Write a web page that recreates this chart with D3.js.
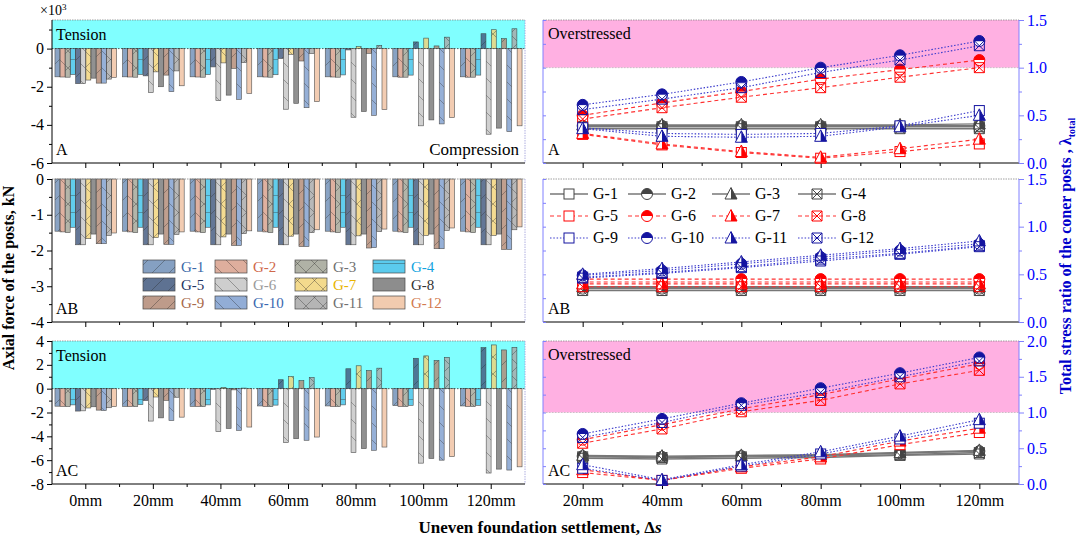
<!DOCTYPE html>
<html lang="en">
<head>
<meta charset="UTF-8">
<title>Axial force and stress ratio of the posts</title>
<script src="https://d3js.org/d3.v7.min.js"></script>
<style>
  body { margin: 0; background: #fff; }
  svg text { font-family: "Liberation Serif", "Times New Roman", serif; }
</style>
</head>
<body>
<svg id="chart" width="1079" height="538"></svg>
<script>
// ---- data ----
const settle = ["0mm", "20mm", "40mm", "60mm", "80mm", "100mm", "120mm"];
const settleMm = [20, 40, 60, 80, 100, 120];
const groups = ["G-1", "G-2", "G-3", "G-4", "G-5", "G-6", "G-7", "G-8", "G-9", "G-10", "G-11", "G-12"];

// axial force (x10^3 kN), one row per post group, one value per settlement
const forceA = [
  [-1.48, -1.48, -1.48, -1.48, -1.48, -1.48, -1.48],
  [-1.49, -1.49, -1.49, -1.49, -1.49, -1.50, -1.50],
  [-1.50, -1.50, -1.50, -1.50, -1.50, -1.50, -1.50],
  [-1.36, -1.36, -1.36, -1.37, -1.38, -1.39, -1.39],
  [-1.84, -1.43, -0.96, -0.52, -0.07, 0.35, 0.78],
  [-1.84, -2.31, -2.73, -3.18, -3.60, -4.05, -4.49],
  [-1.65, -1.22, -0.75, -0.30, 0.10, 0.55, 0.99],
  [-1.55, -2.00, -2.44, -2.87, -3.30, -3.74, -4.17],
  [-1.81, -1.39, -1.04, -0.65, -0.25, 0.14, 0.52],
  [-1.81, -2.26, -2.66, -3.10, -3.50, -3.95, -4.35],
  [-1.60, -1.17, -0.73, -0.26, 0.17, 0.60, 1.04],
  [-1.51, -1.95, -2.35, -2.78, -3.20, -3.62, -4.05]
];
const forceAB = [
  [-1.46, -1.46, -1.46, -1.46, -1.46, -1.46, -1.46],
  [-1.48, -1.48, -1.48, -1.48, -1.48, -1.48, -1.48],
  [-1.50, -1.50, -1.50, -1.50, -1.50, -1.50, -1.50],
  [-1.35, -1.35, -1.35, -1.35, -1.35, -1.35, -1.35],
  [-1.84, -1.84, -1.84, -1.84, -1.84, -1.84, -1.84],
  [-1.84, -1.84, -1.84, -1.84, -1.84, -1.84, -1.84],
  [-1.67, -1.64, -1.62, -1.60, -1.59, -1.58, -1.58],
  [-1.54, -1.54, -1.54, -1.54, -1.54, -1.54, -1.54],
  [-1.81, -1.83, -1.86, -1.89, -1.93, -1.95, -1.97],
  [-1.81, -1.83, -1.86, -1.89, -1.92, -1.95, -1.97],
  [-1.58, -1.55, -1.53, -1.50, -1.47, -1.44, -1.42],
  [-1.51, -1.48, -1.45, -1.42, -1.40, -1.37, -1.34]
];
const forceAC = [
  [-1.47, -1.48, -1.48, -1.45, -1.45, -1.42, -1.45],
  [-1.49, -1.50, -1.50, -1.50, -1.50, -1.50, -1.50],
  [-1.50, -1.50, -1.50, -1.50, -1.50, -1.50, -1.50],
  [-1.36, -1.34, -1.36, -1.38, -1.36, -1.40, -1.40],
  [-1.88, -1.00, -0.05, 0.75, 1.67, 2.55, 3.44],
  [-1.86, -2.72, -3.61, -4.53, -5.37, -6.25, -7.08],
  [-1.62, -0.70, 0.10, 1.02, 1.92, 2.75, 3.67],
  [-1.52, -2.45, -3.34, -4.20, -5.03, -5.86, -6.75],
  [-1.80, -0.98, -0.10, 0.67, 1.52, 2.36, 3.25],
  [-1.83, -2.67, -3.50, -4.33, -5.17, -6.00, -6.83],
  [-1.60, -0.72, 0.05, 0.94, 1.72, 2.63, 3.47],
  [-1.50, -2.39, -3.22, -4.06, -4.90, -5.70, -6.56]
];

// total stress ratio, one row per post group, one value per settlement 20..120mm
const ratioA = [
  [0.38, 0.38, 0.38, 0.38, 0.38, 0.38],
  [0.39, 0.39, 0.39, 0.39, 0.39, 0.39],
  [0.40, 0.40, 0.40, 0.40, 0.40, 0.41],
  [0.36, 0.36, 0.36, 0.36, 0.36, 0.36],
  [0.30, 0.19, 0.11, 0.05, 0.12, 0.20],
  [0.50, 0.63, 0.75, 0.88, 0.98, 1.08],
  [0.31, 0.20, 0.12, 0.06, 0.15, 0.25],
  [0.46, 0.58, 0.69, 0.79, 0.90, 1.00],
  [0.37, 0.31, 0.30, 0.31, 0.39, 0.55],
  [0.61, 0.72, 0.85, 1.00, 1.13, 1.28],
  [0.36, 0.28, 0.27, 0.28, 0.38, 0.50],
  [0.56, 0.67, 0.79, 0.95, 1.08, 1.23]
];
const ratioAB = [
  [0.36, 0.36, 0.36, 0.36, 0.36, 0.36],
  [0.35, 0.35, 0.35, 0.35, 0.35, 0.35],
  [0.37, 0.37, 0.37, 0.37, 0.37, 0.37],
  [0.33, 0.33, 0.33, 0.33, 0.33, 0.33],
  [0.42, 0.42, 0.42, 0.42, 0.42, 0.42],
  [0.45, 0.45, 0.45, 0.45, 0.45, 0.45],
  [0.40, 0.40, 0.40, 0.40, 0.40, 0.40],
  [0.37, 0.37, 0.37, 0.37, 0.37, 0.37],
  [0.47, 0.52, 0.58, 0.66, 0.72, 0.80],
  [0.49, 0.54, 0.61, 0.68, 0.75, 0.82],
  [0.50, 0.56, 0.63, 0.70, 0.77, 0.85],
  [0.46, 0.51, 0.57, 0.64, 0.71, 0.79]
];
const ratioAC = [
  [0.38, 0.37, 0.38, 0.39, 0.41, 0.44],
  [0.39, 0.38, 0.39, 0.40, 0.43, 0.46],
  [0.40, 0.39, 0.40, 0.41, 0.44, 0.47],
  [0.36, 0.35, 0.36, 0.37, 0.40, 0.42],
  [0.16, 0.05, 0.22, 0.35, 0.55, 0.72],
  [0.62, 0.83, 1.05, 1.25, 1.47, 1.68],
  [0.20, 0.05, 0.24, 0.38, 0.60, 0.78],
  [0.57, 0.77, 1.01, 1.17, 1.40, 1.59],
  [0.22, 0.05, 0.25, 0.42, 0.63, 0.85],
  [0.70, 0.91, 1.13, 1.34, 1.55, 1.77],
  [0.27, 0.06, 0.27, 0.45, 0.67, 0.90],
  [0.65, 0.86, 1.10, 1.28, 1.50, 1.72]
];

// tick values
const forceTicksA = [-6, -4, -2, 0];
const forceTicksAB = [-4, -3, -2, -1, 0];
const forceTicksAC = [-8, -6, -4, -2, 0, 2, 4];
const ratioTicks15 = [0, 0.5, 1.0, 1.5];
const ratioTicks20 = [0, 0.5, 1.0, 1.5, 2.0];

// ---- styles ----
const barColor = ["#7090b8", "#d9a08c", "#a3a597", "#3fc3ea", "#435a80", "#c6c6c6",
                  "#f2d47a", "#7a7a7a", "#b38a76", "#7f9fcf", "#a9a9a9", "#f0c2a2"];
const hatch = ["/", "\\", "x", "h", "/", "\\", "x", "", "/", "\\", "v", ""];
const legendColor = ["#3a68a8", "#d0684a", "#707070", "#12a4e0", "#1f3563", "#9a9a9a",
                     "#e8b400", "#333333", "#a8694a", "#3a68b0", "#707070", "#d27a4e"];
const lineColor = ["#777", "#777", "#777", "#777", "#ff3030", "#ff3030", "#ff3030", "#ff3030",
                   "#3a3acc", "#3a3acc", "#3a3acc", "#3a3acc"];
const markColor = ["#444", "#444", "#444", "#444", "#ff0000", "#ff0000", "#ff0000", "#ff0000",
                   "#1414a0", "#1414a0", "#1414a0", "#1414a0"];
const dash = i => i < 4 ? null : (i < 8 ? "4,3" : "1.5,1.8");
const markType = i => ["square", "circle", "triangle", "hour"][i % 4];

const leftX = [52, 525];
const rightX = [543, 1019];

const panels = [
  { label: "A", top: 20, bottom: 163, force: forceA, fDom: [-6, 1.5], fTicks: forceTicksA, fMinor: 1,
    ratio: ratioA, rDom: [0, 1.5], rTicks: ratioTicks15, tension: true, compression: true },
  { label: "AB", top: 179, bottom: 322, force: forceAB, fDom: [-4, 0], fTicks: forceTicksAB, fMinor: 0.5,
    ratio: ratioAB, rDom: [0, 1.5], rTicks: ratioTicks15, legend: true },
  { label: "AC", top: 341, bottom: 484, force: forceAC, fDom: [-8, 4], fTicks: forceTicksAC, fMinor: 1,
    ratio: ratioAC, rDom: [0, 2], rTicks: ratioTicks20, tension: true, xLabels: true }
];

const svg = d3.select("#chart");
const defs = svg.append("defs");

// hatch patterns for the bars (sparse, like the original)
barColor.forEach((c, i) => {
  const s = 17;
  const pat = defs.append("pattern").attr("id", "hatch" + i)
    .attr("patternUnits", "userSpaceOnUse").attr("width", s).attr("height", s);
  pat.append("rect").attr("width", s).attr("height", s).attr("fill", c);
  let d = "";
  const fw = `M0,${s} L${s},0 M${-s / 2},${s / 2} L${s / 2},${-s / 2} M${s / 2},${s * 1.5} L${s * 1.5},${s / 2}`;
  const bk = `M0,0 L${s},${s} M${-s / 2},${s / 2} L${s / 2},${s * 1.5} M${s / 2},${-s / 2} L${s * 1.5},${s / 2}`;
  if (hatch[i] === "/") d = fw;
  if (hatch[i] === "\\") d = bk;
  if (hatch[i] === "x" || hatch[i] === "v") d = fw + " " + bk;
  if (hatch[i] === "h") d = `M0,${s / 2} L${s},${s / 2}`;
  if (d) pat.append("path").attr("d", d).attr("stroke", "rgba(0,0,0,0.45)").attr("stroke-width", 0.8);
});

function styleAxis(g, size) {
  g.selectAll("text").attr("font-family", "'Liberation Serif', serif").attr("font-size", size || 15);
  g.select(".domain").remove();
}

const x0 = d3.scaleBand().domain(settle).range(leftX).paddingInner(0.08).paddingOuter(0.04);
const x1 = d3.scaleBand().domain(groups).range([0, x0.bandwidth()]).padding(0.05);
const xr = d3.scaleLinear().domain([10, 130]).range(rightX);

panels.forEach(p => {
  // ---------- left: axial force bars ----------
  const y = d3.scaleLinear().domain(p.fDom).range([p.bottom, p.top]);
  const gl = svg.append("g");
  if (p.tension) {
    gl.append("rect").attr("x", leftX[0]).attr("y", p.top)
      .attr("width", leftX[1] - leftX[0]).attr("height", y(0) - p.top).attr("fill", "#80ffff");
    gl.append("line").attr("x1", leftX[0]).attr("x2", leftX[1]).attr("y1", y(0)).attr("y2", y(0))
      .attr("stroke", "#333").attr("stroke-width", 0.8).attr("stroke-dasharray", "1.5,1.5");
  }
  const cells = p.force.flatMap((vals, i) => vals.map((v, j) => ({ i, j, v })));
  gl.selectAll("rect.bar").data(cells).join("rect").attr("class", "bar")
    .attr("x", d => x0(settle[d.j]) + x1(groups[d.i]))
    .attr("y", d => y(Math.max(0, d.v)))
    .attr("width", x1.bandwidth())
    .attr("height", d => Math.abs(y(d.v) - y(0)))
    .attr("fill", d => `url(#hatch${d.i})`)
    .attr("stroke", "#2a2a2a").attr("stroke-width", 0.6)
    .attr("opacity", 0.82);

  // frame
  gl.append("line").attr("x1", leftX[0]).attr("x2", leftX[1]).attr("y1", p.top).attr("y2", p.top)
    .attr("stroke", "#888").attr("stroke-dasharray", "1.5,1").attr("stroke-width", 0.8);
  gl.append("line").attr("x1", leftX[1]).attr("x2", leftX[1]).attr("y1", p.top).attr("y2", p.bottom)
    .attr("stroke", "#9a9ad8").attr("stroke-dasharray", "1.5,1").attr("stroke-width", 0.8);
  gl.append("line").attr("x1", leftX[0]).attr("x2", leftX[0]).attr("y1", p.top).attr("y2", p.bottom)
    .attr("stroke", "#000").attr("stroke-width", 1);
  gl.append("line").attr("x1", leftX[0]).attr("x2", leftX[1]).attr("y1", p.bottom).attr("y2", p.bottom)
    .attr("stroke", "#000").attr("stroke-width", 1);

  // y axis
  const minorY = d3.range(p.fDom[0], p.fDom[1] + 1e-9, p.fMinor).filter(v => !p.fTicks.includes(v));
  const ay = gl.append("g").attr("transform", `translate(${leftX[0]},0)`)
    .call(d3.axisLeft(y).tickValues(p.fTicks).tickSize(5).tickPadding(3).tickFormat(d => String(d)));
  styleAxis(ay, 16);
  const ayMinor = gl.append("g").attr("transform", `translate(${leftX[0]},0)`)
    .call(d3.axisLeft(y).tickValues(minorY).tickSize(3).tickFormat(""));
  styleAxis(ayMinor);

  // x axis
  const ax = gl.append("g").attr("transform", `translate(0,${p.bottom})`)
    .call(d3.axisBottom(x0).tickSize(5).tickPadding(6).tickFormat(p.xLabels ? (d => d) : ""));
  styleAxis(ax, 16);
  const bounds = settle.slice(1).map(c => x0(c) - x0.step() * x0.paddingInner() / 2);
  gl.selectAll("line.mx").data(bounds).join("line").attr("class", "mx")
    .attr("x1", d => d).attr("x2", d => d).attr("y1", p.bottom).attr("y2", p.bottom + 3)
    .attr("stroke", "#000");

  gl.append("text").attr("x", leftX[0] + 4).attr("y", p.bottom - 8).attr("font-size", 16).text(p.label);
  if (p.tension) gl.append("text").attr("x", leftX[0] + 4).attr("y", p.top + 20).attr("font-size", 16).text("Tension");
  if (p.compression) gl.append("text").attr("x", leftX[1] - 6).attr("y", p.bottom - 8)
    .attr("text-anchor", "end").attr("font-size", 17).text("Compression");

  // ---------- right: total stress ratio ----------
  const yr = d3.scaleLinear().domain(p.rDom).range([p.bottom, p.top]);
  const gr = svg.append("g");
  if (p.tension) {
    gr.append("rect").attr("x", rightX[0]).attr("y", p.top)
      .attr("width", rightX[1] - rightX[0]).attr("height", yr(1) - p.top).attr("fill", "#ffb0e2");
    gr.append("line").attr("x1", rightX[0]).attr("x2", rightX[1]).attr("y1", yr(1)).attr("y2", yr(1))
      .attr("stroke", "#bbb").attr("stroke-dasharray", "1.5,1.5").attr("stroke-width", 0.8);
  }
  gr.append("line").attr("x1", rightX[0]).attr("x2", rightX[1]).attr("y1", p.top).attr("y2", p.top)
    .attr("stroke", "#888").attr("stroke-dasharray", "1.5,1").attr("stroke-width", 0.8);
  gr.append("line").attr("x1", rightX[0]).attr("x2", rightX[1]).attr("y1", p.bottom).attr("y2", p.bottom)
    .attr("stroke", "#000").attr("stroke-width", 1);
  gr.append("line").attr("x1", rightX[0]).attr("x2", rightX[0]).attr("y1", p.top).attr("y2", p.bottom)
    .attr("stroke", "#8080ff").attr("stroke-width", 1);
  gr.append("line").attr("x1", rightX[1]).attr("x2", rightX[1]).attr("y1", p.top).attr("y2", p.bottom)
    .attr("stroke", "#8080ff").attr("stroke-width", 1);

  const rMinor = d3.range(p.rDom[0] + 0.25, p.rDom[1], 0.5);
  const axr = gr.append("g").attr("transform", `translate(${rightX[1]},0)`)
    .call(d3.axisRight(yr).tickValues(p.rTicks).tickSize(5).tickPadding(3).tickFormat(d3.format(".1f")));
  styleAxis(axr, 16);
  axr.selectAll("text").attr("fill", "#0000ff");
  axr.selectAll("line").attr("stroke", "#8080ff");
  const axrMinor = gr.append("g").attr("transform", `translate(${rightX[1]},0)`)
    .call(d3.axisRight(yr).tickValues(rMinor).tickSize(3).tickFormat(""));
  styleAxis(axrMinor);
  axrMinor.selectAll("line").attr("stroke", "#8080ff");
  const axl = gr.append("g").attr("transform", `translate(${rightX[0]},0)`)
    .call(d3.axisRight(yr).tickValues(d3.range(p.rDom[0], p.rDom[1] + 1e-9, 0.25)).tickSize(3).tickFormat(""));
  styleAxis(axl);
  axl.selectAll("line").attr("stroke", "#8080ff");

  const axb = gr.append("g").attr("transform", `translate(0,${p.bottom})`)
    .call(d3.axisBottom(xr).tickValues(settleMm).tickSize(5).tickPadding(6).tickFormat(p.xLabels ? (d => d + "mm") : ""));
  styleAxis(axb, 16);
  const axbMinor = gr.append("g").attr("transform", `translate(0,${p.bottom})`)
    .call(d3.axisBottom(xr).tickValues(d3.range(30, 130, 20)).tickSize(3).tickFormat(""));
  styleAxis(axbMinor);

  const line = d3.line().x((d, j) => xr(settleMm[j])).y(d => yr(d));
  p.ratio.forEach((vals, i) => {
    gr.append("path").attr("d", line(vals)).attr("fill", "none")
      .attr("stroke", lineColor[i]).attr("stroke-width", i < 4 ? 1.4 : 1.1)
      .attr("stroke-dasharray", dash(i));
  });
  p.ratio.forEach((vals, i) => {
    vals.forEach((v, j) => drawMarker(gr, xr(settleMm[j]), yr(v), i));
  });

  gr.append("text").attr("x", rightX[0] + 5).attr("y", p.bottom - 8).attr("font-size", 16).text(p.label);
  if (p.tension) gr.append("text").attr("x", rightX[0] + 5).attr("y", p.top + 19).attr("font-size", 16).text("Overstressed");

  if (p.legend) {
    drawBarLegend();
    drawLineLegend();
  }
});

function drawMarker(g, cx, cy, i) {
  const c = markColor[i];
  const m = g.append("g").attr("transform", `translate(${cx},${cy})`);
  const t = markType(i);
  if (t === "square") {
    m.append("rect").attr("x", -5).attr("y", -5).attr("width", 10).attr("height", 10)
      .attr("fill", "#fff").attr("stroke", c).attr("stroke-width", 1);
  } else if (t === "circle") {
    m.append("circle").attr("r", 5.5).attr("fill", "#fff").attr("stroke", c).attr("stroke-width", 1);
    m.append("path").attr("d", "M-5.5,0 A5.5,5.5 0 0 1 5.5,0 Z").attr("fill", c);
  } else if (t === "triangle") {
    m.append("path").attr("d", "M0,-6.5 L6,5 L-6,5 Z").attr("fill", "#fff").attr("stroke", c).attr("stroke-width", 1);
    m.append("path").attr("d", "M0,-6.5 L6,5 L0,5 Z").attr("fill", c);
  } else {
    m.append("path").attr("d", "M-5,-5 L5,-5 L-5,5 L5,5 Z M-5,-5 L-5,5 M5,-5 L5,5")
      .attr("fill", "none").attr("stroke", c).attr("stroke-width", 1);
  }
}

function drawBarLegend() {
  const colX = [143, 215, 295, 373];
  const rowY = [260, 278, 296];
  const g = svg.append("g");
  groups.forEach((name, i) => {
    const x = colX[i % 4], y = rowY[Math.floor(i / 4)];
    g.append("rect").attr("x", x).attr("y", y).attr("width", 32).attr("height", 13)
      .attr("fill", `url(#hatch${i})`).attr("stroke", "#2a2a2a").attr("stroke-width", 0.7).attr("opacity", 0.85);
    g.append("text").attr("x", x + 38).attr("y", y + 12).attr("font-size", 15)
      .attr("font-family", "'Liberation Sans', Arial, sans-serif").attr("fill", legendColor[i]).text(name);
  });
}

function drawLineLegend() {
  const colX = [550, 628, 712, 798];
  const rowY = [194, 216, 238];
  const g = svg.append("g");
  groups.forEach((name, i) => {
    const x = colX[i % 4], y = rowY[Math.floor(i / 4)];
    g.append("line").attr("x1", x).attr("x2", x + 38).attr("y1", y).attr("y2", y)
      .attr("stroke", lineColor[i]).attr("stroke-width", i < 4 ? 1.4 : 1.1).attr("stroke-dasharray", dash(i));
    drawMarker(g, x + 19, y, i);
    g.append("text").attr("x", x + 43).attr("y", y + 5).attr("font-size", 16).text(name);
  });
}

// ---- titles ----
const exp = svg.append("text").attr("x", 40).attr("y", 15).attr("font-size", 14).text("\u00d710");
exp.append("tspan").attr("dy", -5).attr("font-size", 9).text("3");

svg.append("text").attr("transform", "translate(14,278) rotate(-90)").attr("text-anchor", "middle")
  .attr("font-size", 16).attr("font-weight", "bold").text("Axial force of the posts, kN");

const rt = svg.append("text").attr("transform", "translate(1071,256) rotate(-90)").attr("text-anchor", "middle")
  .attr("font-size", 16).attr("font-weight", "bold").attr("fill", "#0000cc")
  .text("Total stress ratio of the coner posts , \u03bb");
rt.append("tspan").attr("dy", 4).attr("font-size", 10).text("total");

const xt = svg.append("text").attr("x", 540).attr("y", 533).attr("text-anchor", "middle")
  .attr("font-size", 17).attr("font-weight", "bold").text("Uneven foundation settlement, \u0394");
xt.append("tspan").attr("font-style", "italic").text("s");
</script>
</body>
</html>
